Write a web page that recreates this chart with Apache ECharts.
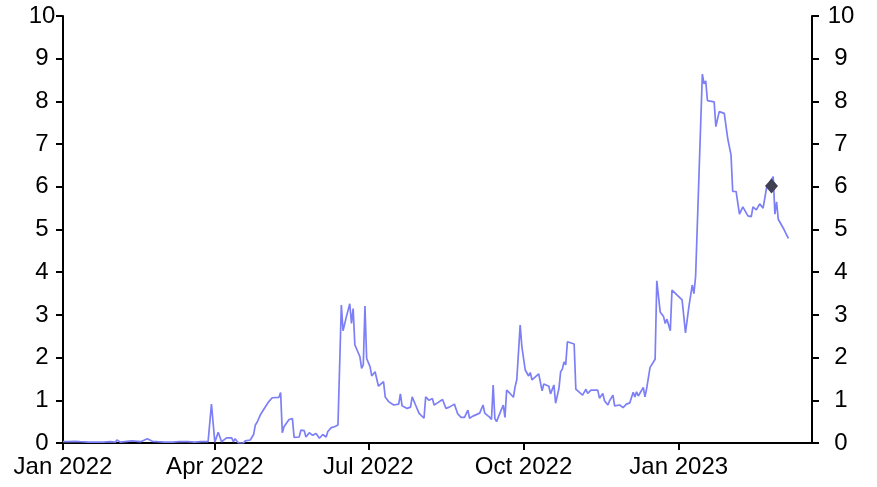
<!DOCTYPE html>
<html>
<head>
<meta charset="utf-8">
<title>chart</title>
<script src="https://cdn.jsdelivr.net/npm/echarts@6/dist/echarts.min.js"></script>
<style>
  html, body { margin: 0; padding: 0; background: #fff; }
  #chart { width: 877px; height: 487px; }
</style>
</head>
<body>
<div id="chart"></div>
<script>
// dates of the observations
var dates = [
  '2022-01-01','2022-01-04','2022-01-08','2022-01-11','2022-01-16','2022-01-20','2022-01-25','2022-01-29',
  '2022-02-01','2022-02-02','2022-02-04','2022-02-08','2022-02-11','2022-02-16','2022-02-20','2022-02-23','2022-02-26',
  '2022-03-02','2022-03-07','2022-03-11','2022-03-16','2022-03-20','2022-03-24','2022-03-28','2022-03-29','2022-03-30',
  '2022-04-01','2022-04-03','2022-04-05','2022-04-08','2022-04-11','2022-04-12','2022-04-13','2022-04-15','2022-04-18',
  '2022-04-19','2022-04-22','2022-04-24','2022-04-25','2022-04-26','2022-04-28',
  '2022-05-01','2022-05-03','2022-05-05','2022-05-09','2022-05-10','2022-05-11','2022-05-12','2022-05-13','2022-05-15',
  '2022-05-17','2022-05-18','2022-05-21','2022-05-22','2022-05-24','2022-05-25','2022-05-27','2022-05-29','2022-05-31',
  '2022-06-02','2022-06-04','2022-06-06','2022-06-07','2022-06-09','2022-06-11','2022-06-13','2022-06-15','2022-06-16',
  '2022-06-18','2022-06-20','2022-06-21','2022-06-22','2022-06-23','2022-06-26','2022-06-27','2022-06-28','2022-06-29','2022-06-30',
  '2022-07-02','2022-07-03','2022-07-05','2022-07-06','2022-07-07','2022-07-08','2022-07-10','2022-07-11','2022-07-13',
  '2022-07-16','2022-07-19','2022-07-20','2022-07-21','2022-07-24','2022-07-26','2022-07-27','2022-07-29','2022-07-31',
  '2022-08-01','2022-08-03','2022-08-04','2022-08-06','2022-08-08','2022-08-09','2022-08-11','2022-08-14','2022-08-16',
  '2022-08-18','2022-08-21','2022-08-23','2022-08-25','2022-08-27','2022-08-29','2022-08-30',
  '2022-09-01','2022-09-05','2022-09-06','2022-09-07','2022-09-08','2022-09-11','2022-09-12','2022-09-13','2022-09-14',
  '2022-09-15','2022-09-17','2022-09-19','2022-09-20','2022-09-21','2022-09-23','2022-09-25','2022-09-26','2022-09-27',
  '2022-09-29','2022-09-30',
  '2022-10-02','2022-10-04','2022-10-05','2022-10-06','2022-10-08','2022-10-10','2022-10-12','2022-10-13','2022-10-16',
  '2022-10-17','2022-10-18','2022-10-19','2022-10-20','2022-10-22','2022-10-23','2022-10-24','2022-10-25','2022-10-26',
  '2022-10-27','2022-10-28','2022-10-31',
  '2022-11-01','2022-11-02','2022-11-05','2022-11-07','2022-11-08','2022-11-10','2022-11-14','2022-11-15','2022-11-17',
  '2022-11-18','2022-11-20','2022-11-21','2022-11-23','2022-11-24','2022-11-27','2022-11-29',
  '2022-12-01','2022-12-03','2022-12-05','2022-12-06','2022-12-07','2022-12-08','2022-12-11','2022-12-12','2022-12-13',
  '2022-12-15','2022-12-18','2022-12-19','2022-12-21','2022-12-23','2022-12-24','2022-12-25','2022-12-27','2022-12-28',
  '2023-01-03','2023-01-05','2023-01-07','2023-01-09','2023-01-10','2023-01-11','2023-01-15','2023-01-16','2023-01-17',
  '2023-01-18','2023-01-22','2023-01-23','2023-01-25','2023-01-28','2023-01-30',
  '2023-02-01','2023-02-02','2023-02-04','2023-02-06','2023-02-08','2023-02-11','2023-02-13','2023-02-14','2023-02-16',
  '2023-02-18','2023-02-20','2023-02-22','2023-02-26','2023-02-27','2023-02-28',
  '2023-03-01','2023-03-04','2023-03-06','2023-03-07'
];

var values = [
  0.03,0.03,0.04,0.03,0.02,0.02,0.02,0.03,
  0.02,0.07,0.02,0.04,0.05,0.03,0.10,0.04,0.03,
  0.02,0.02,0.03,0.03,0.02,0.03,0.03,0.03,0.91,
  0.02,0.25,0.03,0.12,0.12,0.03,0.10,0.00,0.00,
  0.05,0.07,0.20,0.42,0.48,0.66,
  0.85,0.97,1.06,1.07,1.18,0.24,0.38,0.38,0.55,
  0.57,0.13,0.14,0.30,0.29,0.14,0.24,0.18,0.22,
  0.11,0.20,0.14,0.27,0.36,0.38,0.42,3.23,2.63,
  2.96,3.26,2.80,3.15,2.30,2.02,1.75,1.83,3.21,1.98,
  1.79,1.57,1.67,1.65,1.33,1.32,1.44,1.08,0.97,
  0.89,0.91,1.15,0.87,0.81,0.84,1.08,0.89,0.70,
  0.73,0.58,1.08,1.00,1.04,0.89,0.94,1.02,0.81,
  0.84,0.91,0.68,0.60,0.60,0.77,0.58,
  0.63,0.70,0.66,0.89,0.70,0.60,0.55,1.36,0.57,
  0.50,0.70,0.89,0.60,1.24,1.16,1.07,1.32,1.48,
  2.76,2.26,
  1.71,1.57,1.65,1.48,1.55,1.62,1.22,1.38,1.33,
  1.15,1.16,1.36,0.93,1.28,1.67,1.73,1.90,1.83,
  2.37,2.37,2.32,
  1.26,1.24,1.12,1.26,1.16,1.24,1.24,1.05,1.16,
  0.99,0.89,0.99,1.12,0.87,0.89,0.83,
  0.91,0.94,1.19,1.08,1.20,1.10,1.30,1.08,1.28,
  1.77,1.96,3.80,3.07,2.96,2.80,2.90,2.63,3.58,
  3.35,2.58,3.19,3.70,3.50,3.90,8.64,8.41,8.48,
  8.02,7.99,7.41,7.76,7.72,7.14,
  6.74,5.89,5.89,5.36,5.53,5.32,5.30,5.53,5.46,
  5.60,5.50,5.96,6.24,5.36,5.65,
  5.24,5.03,4.87,4.79
];

// highlighted point
var markerDate = '2023-02-25';
var markerValue = 6.02;

var xTicks = ['2022-01-01', '2022-04-01', '2022-07-01', '2022-10-01', '2023-01-01'];
var monthNames = ['Jan','Feb','Mar','Apr','May','Jun','Jul','Aug','Sep','Oct','Nov','Dec'];
var yTicks = [0, 1, 2, 3, 4, 5, 6, 7, 8, 9, 10];

function toTime(s) {
  var p = s.split('-');
  return Date.UTC(+p[0], +p[1] - 1, +p[2]);
}

var chart = echarts.init(document.getElementById('chart'));

var seriesData = dates.map(function (d, i) { return [toTime(d), values[i]]; });
var tickTimes = xTicks.map(toTime);

var labelStyle = {
  color: '#000',
  fontFamily: 'Liberation Sans, Arial, sans-serif',
  fontSize: 24
};

var option = {
  animation: false,
  backgroundColor: '#fff',
  grid: { left: 63, right: 65, top: 16, bottom: 44 },
  xAxis: {
    type: 'value',
    min: toTime('2022-01-01'),
    max: toTime('2023-03-21'),
    axisLine: { show: true, onZero: false, lineStyle: { color: '#000', width: 2 } },
    axisTick: { show: true, customValues: tickTimes, length: 7, lineStyle: { color: '#000', width: 2 } },
    axisLabel: Object.assign({
      customValues: tickTimes,
      margin: 12,
      formatter: function (v) {
        var d = new Date(v);
        return monthNames[d.getUTCMonth()] + ' ' + d.getUTCFullYear();
      }
    }, labelStyle),
    splitLine: { show: false }
  },
  yAxis: [
    {
      type: 'value',
      min: yTicks[0],
      max: yTicks[yTicks.length - 1],
      interval: 1,
      position: 'left',
      axisLine: { show: true, lineStyle: { color: '#000', width: 2 } },
      axisTick: { show: true, length: 7, lineStyle: { color: '#000', width: 2 } },
      axisLabel: Object.assign({ margin: 21, align: 'center' }, labelStyle),
      splitLine: { show: false }
    },
    {
      type: 'value',
      min: yTicks[0],
      max: yTicks[yTicks.length - 1],
      interval: 1,
      position: 'right',
      axisLine: { show: true, lineStyle: { color: '#000', width: 2 } },
      axisTick: { show: true, length: 7, lineStyle: { color: '#000', width: 2 } },
      axisLabel: Object.assign({ margin: 29, align: 'center' }, labelStyle),
      splitLine: { show: false }
    }
  ],
  series: [
    {
      type: 'line',
      data: seriesData,
      showSymbol: false,
      symbol: 'none',
      lineStyle: { color: '#7c7ff5', width: 1.7 },
      z: 2
    },
    {
      type: 'scatter',
      data: [[toTime(markerDate), markerValue]],
      symbol: 'diamond',
      symbolSize: [13, 15],
      itemStyle: { color: '#404052', opacity: 1 },
      z: 3
    }
  ]
};

chart.setOption(option);
</script>
</body>
</html>
